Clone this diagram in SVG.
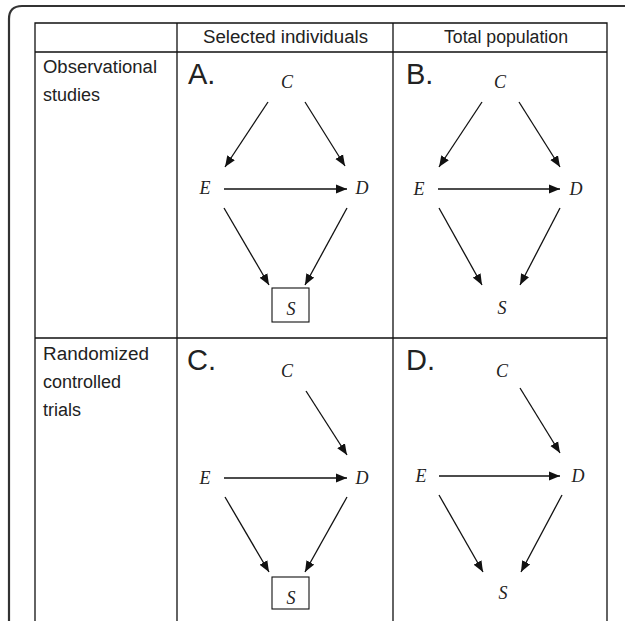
<svg xmlns="http://www.w3.org/2000/svg" width="625" height="621" viewBox="0 0 625 621">
<defs>
<marker id="ah" markerUnits="userSpaceOnUse" markerWidth="12" markerHeight="10" refX="11" refY="5" orient="auto">
<path d="M0,0.5 L11,5 L0,9.5 Z" fill="#111"/>
</marker>
<style>
.frame{fill:none;stroke:#333;stroke-width:2.2}
.grid{fill:none;stroke:#111;stroke-width:1.3}
.hdr{font-family:"Liberation Sans",Arial,sans-serif;font-size:18px;fill:#222}
.big{font-family:"Liberation Sans",Arial,sans-serif;font-size:29px;fill:#222}
.v{font-family:"Liberation Serif","Times New Roman",serif;font-style:italic;font-size:18px;fill:#222;text-anchor:middle}
.e{stroke:#111;stroke-width:1.3;fill:none;marker-end:url(#ah)}
.box{fill:#fff;stroke:#111;stroke-width:1.1}
</style>
</defs>
<rect width="625" height="621" fill="#fff"/>
<path class="frame" d="M9,621 V19 Q9,6 22,6 H625"/>
<g id="table">
<path class="grid" d="M35,621 V23 H607 V621 M35,52 H607 M177,23 V621 M393,23 V621 M35,338 H607"/>
<text class="hdr" x="203" y="43" textLength="165" lengthAdjust="spacingAndGlyphs">Selected individuals</text>
<text class="hdr" x="444" y="43" textLength="124" lengthAdjust="spacingAndGlyphs">Total population</text>
<text class="hdr" x="43" y="73" textLength="114" lengthAdjust="spacingAndGlyphs">Observational</text>
<text class="hdr" x="43" y="101">studies</text>
<text class="hdr" x="43" y="360" textLength="106" lengthAdjust="spacingAndGlyphs">Randomized</text>
<text class="hdr" x="43" y="388">controlled</text>
<text class="hdr" x="43" y="416">trials</text>
<text class="big" x="188" y="84">A.</text>
<text class="big" x="406" y="84">B.</text>
<text class="big" x="187" y="370">C.</text>
<text class="big" x="406" y="370">D.</text>
</g>
<g id="connectors">
<line class="e" x1="268" y1="102" x2="225" y2="167"/>
<line class="e" x1="305" y1="102" x2="345" y2="166"/>
<line class="e" x1="224" y1="189" x2="347" y2="189"/>
<line class="e" x1="224" y1="208" x2="269" y2="285"/>
<line class="e" x1="347" y1="208" x2="305" y2="285"/>
<line class="e" x1="482" y1="102" x2="439" y2="167"/>
<line class="e" x1="519" y1="102" x2="560" y2="167"/>
<line class="e" x1="438" y1="189" x2="560" y2="189"/>
<line class="e" x1="439" y1="208" x2="482" y2="285"/>
<line class="e" x1="560" y1="208" x2="520" y2="285"/>
<line class="e" x1="306" y1="391" x2="347" y2="455"/>
<line class="e" x1="224" y1="478" x2="347" y2="478"/>
<line class="e" x1="225" y1="497" x2="269" y2="572"/>
<line class="e" x1="347" y1="497" x2="305" y2="572"/>
<line class="e" x1="520" y1="388" x2="560" y2="453"/>
<line class="e" x1="439" y1="476" x2="560" y2="476"/>
<line class="e" x1="439" y1="495" x2="483" y2="572"/>
<line class="e" x1="562" y1="495" x2="521" y2="572"/>
</g>
<g id="A-C"><text class="v" x="287" y="88">C</text></g>
<g id="A-E"><text class="v" x="205" y="194">E</text></g>
<g id="A-D"><text class="v" x="362" y="194">D</text></g>
<g id="A-S"><rect class="box" x="272" y="288" width="37" height="34"/><text class="v" x="291" y="315">S</text></g>
<g id="B-C"><text class="v" x="500" y="88">C</text></g>
<g id="B-E"><text class="v" x="419" y="195">E</text></g>
<g id="B-D"><text class="v" x="576" y="195">D</text></g>
<g id="B-S"><text class="v" x="502" y="314">S</text></g>
<g id="C-C"><text class="v" x="287" y="377">C</text></g>
<g id="C-E"><text class="v" x="205" y="484">E</text></g>
<g id="C-D"><text class="v" x="362" y="484">D</text></g>
<g id="C-S"><rect class="box" x="272" y="577" width="37" height="32"/><text class="v" x="291" y="604">S</text></g>
<g id="D-C"><text class="v" x="502" y="377">C</text></g>
<g id="D-E"><text class="v" x="421" y="482">E</text></g>
<g id="D-D"><text class="v" x="578" y="482">D</text></g>
<g id="D-S"><text class="v" x="503" y="599">S</text></g>
</svg>
